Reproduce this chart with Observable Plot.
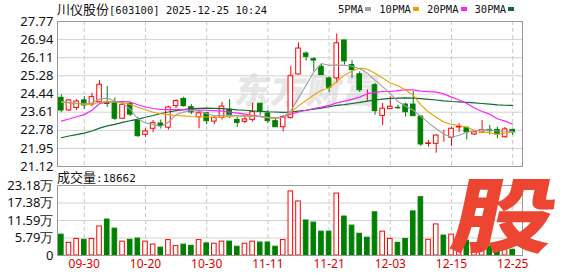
<!DOCTYPE html>
<html><head><meta charset="utf-8">
<script src="https://cdn.jsdelivr.net/npm/d3@7"></script>
<script src="https://cdn.jsdelivr.net/npm/@observablehq/plot@0.6"></script>
<style>
html,body{margin:0;padding:0;background:#fff;}
#wrap{position:relative;width:578px;height:276px;overflow:hidden;font-family:"Liberation Sans",Arial,sans-serif;color:#111;}
.abs{position:absolute;}
#title{left:57px;top:1px;height:16px;line-height:16px;white-space:nowrap;}
#title .cn{font-family:"Noto Sans CJK SC";font-size:13px;}
#title .mono{font-family:"DejaVu Sans Mono";font-size:10.5px;}
#legend{left:338px;top:1px;height:16px;line-height:16px;display:flex;align-items:center;font-family:"DejaVu Sans Mono";font-size:10.5px;white-space:nowrap;}
#legend .sw{display:inline-block;width:6px;height:4px;margin-left:2px;margin-right:8px;}
#vollabel{left:57px;top:169px;height:16px;line-height:16px;white-space:nowrap;}
#vollabel .cn{font-family:"Noto Sans CJK SC";font-size:13px;}
#vollabel .mono{font-family:"DejaVu Sans Mono";font-size:11px;}
#wm{left:236px;top:62px;font-family:"Noto Sans CJK SC";font-weight:900;font-size:35px;color:#e6e6e6;transform:skewX(-10deg);white-space:nowrap;letter-spacing:1px;}
#gu{left:464px;top:170px;font-family:"Noto Sans CJK SC";font-weight:900;font-size:102px;line-height:102px;color:#ec4632;transform:skewX(-12deg) scaleY(0.8);transform-origin:left top;}
#price,#vol{left:0;}
#price{top:0;}
#vol{top:170px;}
</style></head>
<body><div id="wrap">
<div id="wm" class="abs">东方财富</div>
<div id="price" class="abs"></div>
<div id="vol" class="abs"></div>
<div id="title" class="abs"><span class="cn">川仪股份</span><span class="mono">[603100] 2025-12-25 10:24</span></div>
<div id="legend" class="abs"></div>
<div id="vollabel" class="abs"><span class="cn">成交量</span><span class="mono">:18662</span></div>
<div id="gu" class="abs">股</div>
</div>
<script>
const dates = ["09-25","09-26","09-29","09-30","10-09","10-10","10-13","10-14","10-15","10-16","10-17","10-20","10-21","10-22","10-23","10-24","10-27","10-28","10-29","10-30","10-31","11-03","11-04","11-05","11-06","11-07","11-10","11-11","11-12","11-13","11-14","11-17","11-18","11-19","11-20","11-21","11-24","11-25","11-26","11-27","11-28","12-01","12-02","12-03","12-04","12-05","12-08","12-09","12-10","12-11","12-12","12-15","12-16","12-17","12-18","12-19","12-22","12-23","12-24","12-25"];
const open  = [24.27,23.69,23.80,24.15,23.96,24.07,24.04,24.02,23.31,24.00,23.23,22.57,22.85,23.09,22.90,23.89,24.22,23.84,23.38,23.56,23.18,23.35,23.72,23.25,23.17,23.26,24.00,23.55,23.20,22.92,23.35,25.34,26.30,26.04,25.69,25.16,25.16,26.90,25.77,25.35,24.27,24.85,23.44,23.75,23.81,23.96,23.96,23.41,22.15,22.16,22.47,22.44,22.91,22.90,22.59,22.68,22.80,22.80,22.46,22.80];
const high  = [24.41,24.19,24.19,24.33,24.48,25.06,24.79,24.27,24.01,24.03,23.38,22.85,23.23,23.25,23.89,24.18,24.30,23.96,23.69,23.61,23.41,24.06,24.19,23.38,23.38,24.02,24.01,23.70,23.32,23.47,25.72,26.79,26.38,26.11,25.84,25.23,27.20,26.90,25.99,25.46,24.63,24.93,24.01,24.32,23.93,24.02,24.56,23.41,22.31,22.56,22.77,22.92,23.08,22.92,22.71,23.23,23.00,22.92,22.92,22.82];
const low   = [23.58,23.64,23.69,23.73,23.87,24.00,23.83,23.23,23.28,23.41,22.46,22.46,22.67,22.84,22.79,23.78,23.84,23.50,22.85,23.03,23.03,23.25,23.32,22.92,23.09,23.15,23.45,23.09,22.92,22.71,23.29,25.31,25.95,25.46,25.31,24.52,24.93,25.77,25.16,24.51,24.08,23.47,22.99,23.75,23.75,23.38,23.43,22.04,22.01,21.73,22.23,22.04,22.69,22.34,22.54,22.67,22.57,22.39,22.42,22.54];
const close = [23.69,24.15,24.10,23.92,24.30,24.87,23.99,23.31,23.95,23.50,22.51,22.73,23.11,22.98,23.83,24.12,23.89,23.60,23.56,23.20,23.35,23.87,23.46,23.12,23.28,23.61,23.63,23.20,22.92,23.38,25.26,26.53,26.15,25.98,25.31,24.73,26.77,25.94,25.54,24.62,24.27,23.66,23.77,23.86,23.79,23.61,23.43,22.13,22.18,22.54,22.47,22.85,22.94,22.69,22.69,22.79,22.74,22.59,22.82,22.69];
const ma5  = [24.10,24.06,24.02,24.00,24.04,24.22,24.25,24.12,24.02,23.75,23.30,23.12,23.05,22.95,23.15,23.50,23.62,23.69,23.66,23.55,23.44,23.47,23.48,23.45,23.42,23.41,23.42,23.36,23.33,23.38,23.68,24.26,24.85,25.46,25.84,25.76,25.78,25.76,25.72,25.60,25.40,25.08,24.78,24.46,24.10,23.88,23.70,23.42,23.12,22.85,22.60,22.46,22.55,22.69,22.76,22.80,22.79,22.75,22.74,22.73];
const ma10 = [24.07,24.04,24.00,23.96,23.98,24.07,24.10,24.08,24.06,23.96,23.84,23.72,23.61,23.54,23.50,23.46,23.44,23.41,23.40,23.39,23.38,23.38,23.42,23.45,23.46,23.44,23.40,23.36,23.35,23.38,23.60,23.90,24.15,24.40,24.62,24.72,25.02,25.30,25.50,25.63,25.58,25.40,25.18,24.95,24.82,24.63,24.38,23.95,23.62,23.38,23.16,23.05,23.00,22.92,22.78,22.70,22.67,22.60,22.66,22.72];
const ma20 = [23.20,23.30,23.40,23.50,23.70,24.00,24.07,24.10,24.10,24.08,23.95,23.85,23.78,23.74,23.73,23.73,23.73,23.72,23.71,23.70,23.68,23.66,23.62,23.57,23.52,23.46,23.42,23.37,23.35,23.38,23.52,23.62,23.70,23.78,23.84,23.92,24.04,24.12,24.20,24.30,24.46,24.52,24.56,24.56,24.60,24.64,24.63,24.58,24.55,24.53,24.45,24.30,24.17,24.01,23.80,23.64,23.52,23.31,23.20,23.06];
const ma30 = [22.44,22.52,22.58,22.65,22.75,22.88,22.98,23.05,23.14,23.22,23.28,23.38,23.46,23.55,23.62,23.68,23.73,23.77,23.79,23.80,23.79,23.77,23.75,23.72,23.70,23.67,23.65,23.63,23.62,23.60,23.62,23.66,23.70,23.75,23.80,23.86,23.92,23.96,24.01,24.06,24.12,24.17,24.21,24.24,24.26,24.27,24.26,24.23,24.20,24.17,24.13,24.10,24.08,24.06,24.04,24.01,23.98,23.95,23.93,23.92];
// volume in 万
const volume = [6.9,4.2,5.5,5.2,5.5,9.6,11.9,8.9,4.6,5.2,5.6,4.6,3.6,2.6,5.1,3.1,3.6,3.2,5.1,4.0,3.9,4.6,4.6,2.9,3.9,4.6,4.3,4.3,2.9,5.1,21.2,17.9,11.6,10.9,7.9,7.9,20.5,12.9,9.9,7.2,5.9,14.3,7.9,5.5,4.2,5.5,14.6,19.3,5.2,10.3,6.6,6.9,4.6,4.9,3.3,3.8,3.0,3.5,3.1,1.87];
const priceTicks = [21.12,21.95,22.78,23.61,24.44,25.28,26.11,26.94,27.77];
const volTicks = [0,5.79,11.59,17.38,23.18];
const dateTicks = ["09-30","10-20","10-30","11-11","11-21","12-03","12-15","12-25"];
const maNames = ["5PMA","10PMA","20PMA","30PMA"];
const maColors = ["#a0a0a0","#f0a000","#ff22ff","#0a6e32"];

const RED = "#ff0000", GREEN = "#008000";
const bars = dates.map((d,i)=>{
  const o=open[i], c=close[i];
  const up = c >= o;
  let vup = c > o ? true : c < o ? false : (i>0 ? c >= close[i-1] : true);
  return {i, d, o, h:high[i], l:low[i], c, v:volume[i], up, vup,
    ma5:ma5[i], ma10:ma10[i], ma20:ma20[i], ma30:ma30[i]};
});
const dateIdx = dateTicks.map(t=>dates.indexOf(t));
const xDomain = [-0.5, 60.28];
const half = 0.3;

const price = Plot.plot({
  width:578, height:170,
  marginLeft:57, marginRight:56, marginTop:21, marginBottom:4,
  style:{background:"transparent", overflow:"visible"},
  x:{type:"linear", domain:xDomain, axis:null},
  y:{domain:[priceTicks[0], priceTicks[priceTicks.length-1]], axis:null},
  color:{type:"identity"},
  marks:[
    Plot.ruleY(priceTicks, {stroke:"#d2d2d2"}),
    Plot.ruleX(dateIdx, {stroke:"#c8c8c8", strokeDasharray:"4,3"}),
    Plot.text(priceTicks, {y:d=>d, frameAnchor:"left", textAnchor:"end", dx:-4, text:d=>d.toFixed(2), fontSize:13, fill:"#111"}),
    Plot.ruleX(bars, {x:"i", y1:"l", y2:"h", stroke:d=>d.up?RED:GREEN}),
    Plot.rect(bars, {x1:d=>d.i-half, x2:d=>d.i+half, y1:"o", y2:"c", fill:d=>d.up?"#fff":GREEN, stroke:d=>d.up?RED:GREEN}),
    Plot.lineY(bars, {x:"i", y:"ma30", stroke:maColors[3], strokeWidth:1.2}),
    Plot.lineY(bars, {x:"i", y:"ma20", stroke:maColors[2], strokeWidth:1.2}),
    Plot.lineY(bars, {x:"i", y:"ma10", stroke:maColors[1], strokeWidth:1.1}),
    Plot.lineY(bars, {x:"i", y:"ma5", stroke:maColors[0], strokeWidth:1.1}),
    Plot.frame({stroke:"#9a9a9a"})
  ]
});
document.getElementById("price").appendChild(price);

const vol = Plot.plot({
  width:578, height:106,
  marginLeft:57, marginRight:56, marginTop:15, marginBottom:21,
  style:{background:"transparent", overflow:"visible"},
  x:{type:"linear", domain:xDomain, axis:null},
  y:{domain:[0, volTicks[volTicks.length-1]], axis:null},
  color:{type:"identity"},
  marks:[
    Plot.ruleY(volTicks, {stroke:"#d2d2d2"}),
    Plot.ruleX(dateIdx, {stroke:"#c8c8c8", strokeDasharray:"4,3"}),
    Plot.text(volTicks, {y:d=>d, frameAnchor:"left", textAnchor:"end", dx:-4, text:d=>d===0?"0":d.toFixed(2)+"万", fontSize:13, fill:"#111"}),
    Plot.rect(bars, {x1:d=>d.i-half, x2:d=>d.i+half, y1:0, y2:"v", fill:d=>d.vup?"#fff":GREEN, stroke:d=>d.vup?RED:GREEN}),
    Plot.text(dateTicks, {x:d=>dates.indexOf(d), frameAnchor:"bottom", dy:12, text:d=>d, fill:"#e00000", fontSize:12}),
    Plot.frame({stroke:"#9a9a9a"})
  ]
});
document.getElementById("vol").appendChild(vol);

const lg = document.getElementById("legend");
maNames.forEach((n,k)=>{
  const t = document.createElement("span"); t.textContent = n; lg.appendChild(t);
  const s = document.createElement("span"); s.className="sw"; s.style.background = maColors[k]; lg.appendChild(s);
});
</script>
</body></html>
